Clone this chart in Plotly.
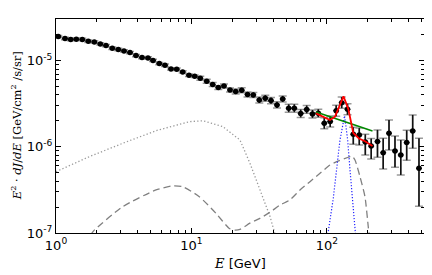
import numpy as np
import plotly.graph_objects as go

# ---- data ----
energy = [1.04, 1.165, 1.284, 1.412, 1.564, 1.731, 1.918, 2.123, 2.339, 2.603,
          2.883, 3.176, 3.517, 3.894, 4.312, 4.775, 5.199, 5.786, 6.375, 7.059,
          7.778, 8.612, 9.584, 10.56, 11.61, 12.95, 14.34, 15.77, 17.37, 19.24,
          21.20, 23.47, 25.91, 28.59, 31.65, 35.04, 38.62, 42.76, 47.11, 52.17,
          57.39, 63.96, 70.82, 78.17, 86.26, 95.52, 105.6, 116.9, 128.4, 141.7,
          156.4, 173.1, 191.8, 212.0, 235.9, 259.9, 286.9, 317.6, 350.4, 387.4,
          429.0, 477.5]
flux = [1.905e-5, 1.806e-5, 1.759e-5, 1.778e-5, 1.759e-5, 1.685e-5, 1.653e-5, 1.567e-5, 1.497e-5, 1.397e-5,
        1.346e-5, 1.300e-5, 1.242e-5, 1.146e-5, 1.086e-5, 1.078e-5, 1.008e-5, 9.25e-6, 8.86e-6, 8.03e-6,
        7.97e-6, 7.41e-6, 6.79e-6, 6.61e-6, 6.26e-6, 5.78e-6, 5.28e-6, 4.87e-6, 5.10e-6, 4.58e-6,
        4.38e-6, 4.54e-6, 4.06e-6, 4.01e-6, 3.50e-6, 3.67e-6, 3.44e-6, 3.07e-6, 3.60e-6, 2.81e-6,
        2.81e-6, 2.44e-6, 2.72e-6, 2.41e-6, 2.46e-6, 1.88e-6, 1.97e-6, 2.63e-6, 3.26e-6, 2.73e-6,
        1.40e-6, 1.37e-6, 1.14e-6, 1.02e-6, 1.15e-6, 8.56e-7, 1.44e-6, 8.96e-7, 8.05e-7, 1.12e-6,
        1.53e-6, 5.64e-7]
# uncertainties in dex (upper / lower)
err_up_dex = [0.014] * 24 + [0.023] * 6 + [0.029] * 4 + [0.035] * 5 + [0.046] * 6 + [0.064] * 5 + \
             [0.081, 0.081, 0.089, 0.089, 0.136, 0.167, 0.154, 0.174, 0.174, 0.143, 0.186, 0.348]
err_lo_dex = [0.014] * 24 + [0.023] * 6 + [0.029] * 4 + [0.035] * 5 + [0.046] * 6 + [0.064] * 5 + \
             [0.116, 0.116, 0.151, 0.151, 0.181, 0.189, 0.194, 0.189, 0.232, 0.206, 0.201, 0.441]
bin_half_dex = 0.0218

# model components
bkg1_E = [1.0, 1.76, 3.11, 5.47, 9.63, 12.1, 17.0, 22.8, 27.0, 32.0, 38.0, 40.8, 43.0]
bkg1_F = [5.15e-7, 7.69e-7, 1.10e-6, 1.54e-6, 1.96e-6, 2.01e-6, 1.72e-6, 1.20e-6, 6.46e-7,
          3.15e-7, 1.55e-7, 1.04e-7, 8.0e-8]

bkg2_E = [1.8, 1.918, 3.107, 5.47, 7.26, 8.61, 11.42, 15.17, 19.01, 20.94, 22.8, 27.0, 32.0,
          37.96, 45.0, 53.3, 63.2, 74.9, 88.8, 105.2, 117.9, 143.6, 152.9, 160.9, 175.2,
          190.7, 201.7, 206.0]
bkg2_F = [9.5e-8, 1.08e-7, 2.02e-7, 3.16e-7, 3.52e-7, 3.45e-7, 2.64e-7, 1.69e-7, 1.13e-7, 1.08e-7,
          1.10e-7, 1.30e-7, 1.48e-7, 1.74e-7, 2.11e-7, 2.42e-7, 3.16e-7, 3.94e-7, 4.93e-7, 6.16e-7,
          6.73e-7, 7.57e-7, 7.83e-7, 7.05e-7, 4.51e-7, 2.64e-7, 1.18e-7, 9.0e-8]

line_E = [100.0, 102.2, 111.3, 116.5, 124.7, 134.7, 142.2, 147.8, 153.7, 160.9, 163.0]
line_F = [9.0e-8, 1.04e-7, 2.53e-7, 4.72e-7, 1.20e-6, 2.29e-6, 1.20e-6, 5.4e-7, 2.53e-7, 1.04e-7, 9.0e-8]

pl_E = [82.96, 216.7]
pl_F = [2.54e-6, 1.53e-6]

fit_E = [82.96, 93.9, 105.2, 114.6, 122.6, 132.4, 143.6, 156.4, 172.3, 190.7, 216.7]
fit_F = [2.45e-6, 2.21e-6, 2.05e-6, 2.24e-6, 2.93e-6, 3.85e-6, 2.76e-6, 1.45e-6, 1.25e-6, 1.16e-6, 1.02e-6]

x_major = [1, 10, 100]
x_major_text = ["10<sup>0</sup>", "10<sup>1</sup>", "10<sup>2</sup>"]
y_major = [1e-7, 1e-6, 1e-5]
y_major_text = ["10<sup>-7</sup>", "10<sup>-6</sup>", "10<sup>-5</sup>"]

# ---- derived ----
E = np.array(energy)
F = np.array(flux)
eplus = F * (10 ** np.array(err_up_dex) - 1)
eminus = F * (1 - 10 ** (-np.array(err_lo_dex)))
xplus = E * (10 ** bin_half_dex - 1)
xminus = E * (1 - 10 ** (-bin_half_dex))

fig = go.Figure()

fig.add_trace(go.Scatter(x=bkg1_E, y=bkg1_F, mode="lines",
                         line=dict(color="#9a9a9a", width=1.3, dash="1.3px,2.2px"),
                         hoverinfo="skip"))
fig.add_trace(go.Scatter(x=bkg2_E, y=bkg2_F, mode="lines",
                         line=dict(color="#808080", width=1.3, dash="7px,4px", shape="spline", smoothing=0.6),
                         hoverinfo="skip"))
fig.add_trace(go.Scatter(x=line_E, y=line_F, mode="lines",
                         line=dict(color="#2020ff", width=1.2, dash="1.2px,1.8px"),
                         hoverinfo="skip"))

# caps (gray)
fig.add_trace(go.Scatter(x=E, y=F, mode="markers", marker=dict(size=1, color="rgba(0,0,0,0)"),
                         error_y=dict(type="data", symmetric=False, array=eplus, arrayminus=eminus,
                                      color="#9a9a9a", thickness=1.5, width=4),
                         hoverinfo="skip"))
# data points
fig.add_trace(go.Scatter(x=E, y=F, mode="markers", marker=dict(size=5.5, color="black"),
                         error_y=dict(type="data", symmetric=False, array=eplus, arrayminus=eminus,
                                      color="#111111", thickness=1.6, width=0),
                         error_x=dict(type="data", symmetric=False, array=xplus, arrayminus=xminus,
                                      color="#111111", thickness=1.2, width=0)))

fig.add_trace(go.Scatter(x=pl_E, y=pl_F, mode="lines", line=dict(color="#008800", width=1.6)))
fig.add_trace(go.Scatter(x=fit_E, y=fit_F, mode="lines", line=dict(color="#ff0000", width=1.8)))

axis_common = dict(showline=True, linecolor="black", linewidth=1.2, mirror="ticks",
                   ticks="inside", ticklen=5, tickwidth=1, tickcolor="black",
                   showgrid=False, zeroline=False,
                   tickfont=dict(family="DejaVu Sans", size=13, color="black"))

fig.update_xaxes(type="log", range=[0, 2.716], tickmode="array", tickvals=x_major, ticktext=x_major_text,
                 minor=dict(tickvals=[2, 3, 4, 5, 6, 7, 8, 9, 20, 30, 40, 50, 60, 70, 80, 90, 200, 300, 400, 500],
                            ticks="inside", ticklen=2.5, tickcolor="black", tickwidth=1, showgrid=False),
                 **axis_common)
fig.update_yaxes(type="log", range=[-7, -4.516], tickmode="array", tickvals=y_major, ticktext=y_major_text,
                 minor=dict(tickvals=[2e-7, 3e-7, 4e-7, 5e-7, 6e-7, 7e-7, 8e-7, 9e-7,
                                      2e-6, 3e-6, 4e-6, 5e-6, 6e-6, 7e-6, 8e-6, 9e-6, 2e-5, 3e-5],
                            ticks="inside", ticklen=2.5, tickcolor="black", tickwidth=1, showgrid=False),
                 **axis_common)

fig.add_annotation(xref="paper", yref="paper", x=0.5, y=-0.1, xanchor="center", yanchor="top",
                   text="<span style='font-family:DejaVu Serif'><i>E</i></span> [GeV]",
                   showarrow=False, font=dict(family="DejaVu Sans", size=13, color="black"))
fig.add_annotation(xref="paper", yref="paper", x=-0.108, y=0.5, xanchor="center", yanchor="middle",
                   textangle=-90,
                   text="<i>E</i><sup>2</sup> · <i>dJ</i>/<i>dE</i> [GeV/cm<sup>2</sup> /s/sr]",
                   showarrow=False, font=dict(family="DejaVu Serif", size=11.5, color="black"))

# the page body has an 8px margin, so the figure is sized to fit inside the window
fig.update_layout(width=424, height=267, margin=dict(l=48, r=8, t=11, b=42),
                  plot_bgcolor="white", paper_bgcolor="white", showlegend=False)

fig.write_html("out.html")
